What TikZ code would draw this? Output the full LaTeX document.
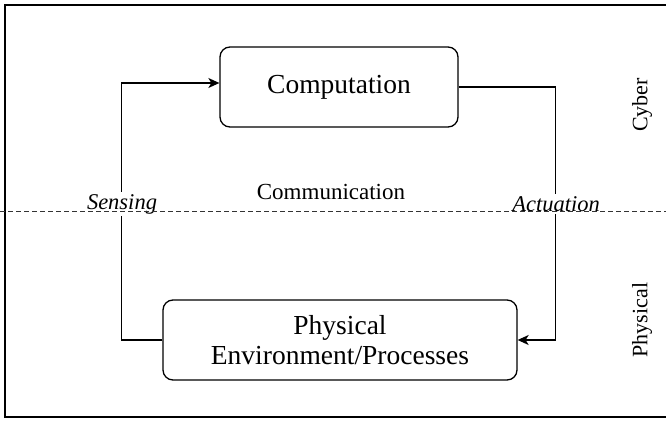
\documentclass[tikz,border=0pt]{standalone}
\usepackage{fontspec}
\setmainfont{Liberation Serif}
\usetikzlibrary{arrows.meta,calc}
\begin{document}
\begin{tikzpicture}[x=1pt,y=-1pt,
  box/.style={draw, line width=1.3pt, rounded corners=10pt, align=center, font=\fontsize{27.5}{30}\selectfont, inner sep=0pt},
  conn/.style={line width=1.3pt, -{Stealth[length=11pt,width=10pt,inset=3pt]}},
  plain/.style={line width=1.3pt},
  elabel/.style={fill=white, inner sep=2pt, font=\fontsize{22.5}{26}\selectfont\itshape},
  side/.style={rotate=90, font=\fontsize{22}{26}\selectfont},
  divider/.style={dashed, line width=1pt, dash pattern=on 5pt off 3pt, draw=black!80}]
\useasboundingbox (0,0) rectangle (666,420);
\clip (0,0) rectangle (666,420);
\draw[line width=2pt] (5,5) rectangle (680,417);
\node[box, minimum width=238pt, minimum height=80pt] (comp) at (339,87) {Computation};
\node[box, minimum width=354pt, minimum height=80pt] (phys) at (340,340) {Physical\\Environment/Processes};
\draw[conn] (phys.west) -- ++(-41,0) coordinate (sl) |- ([yshift=4pt]comp.west);
\draw[conn] (comp.east) -- ++(97,0) coordinate (ar) |- (phys.east);
\node[elabel] (sens) at (122,204) {Sensing};
\node[elabel] (act) at (556,204) {Actuation};
\node[font=\fontsize{23}{26}\selectfont, anchor=base] (commu) at (331,199) {Communication};
\coordinate (dl) at (0,211);
\coordinate (dr) at (666,211);
\draw[divider] (dl) -- (dr);
\node[side] (cyber) at (642,105) {Cyber};
\node[side] (physl) at (642,320) {Physical};
\end{tikzpicture}
\end{document}
